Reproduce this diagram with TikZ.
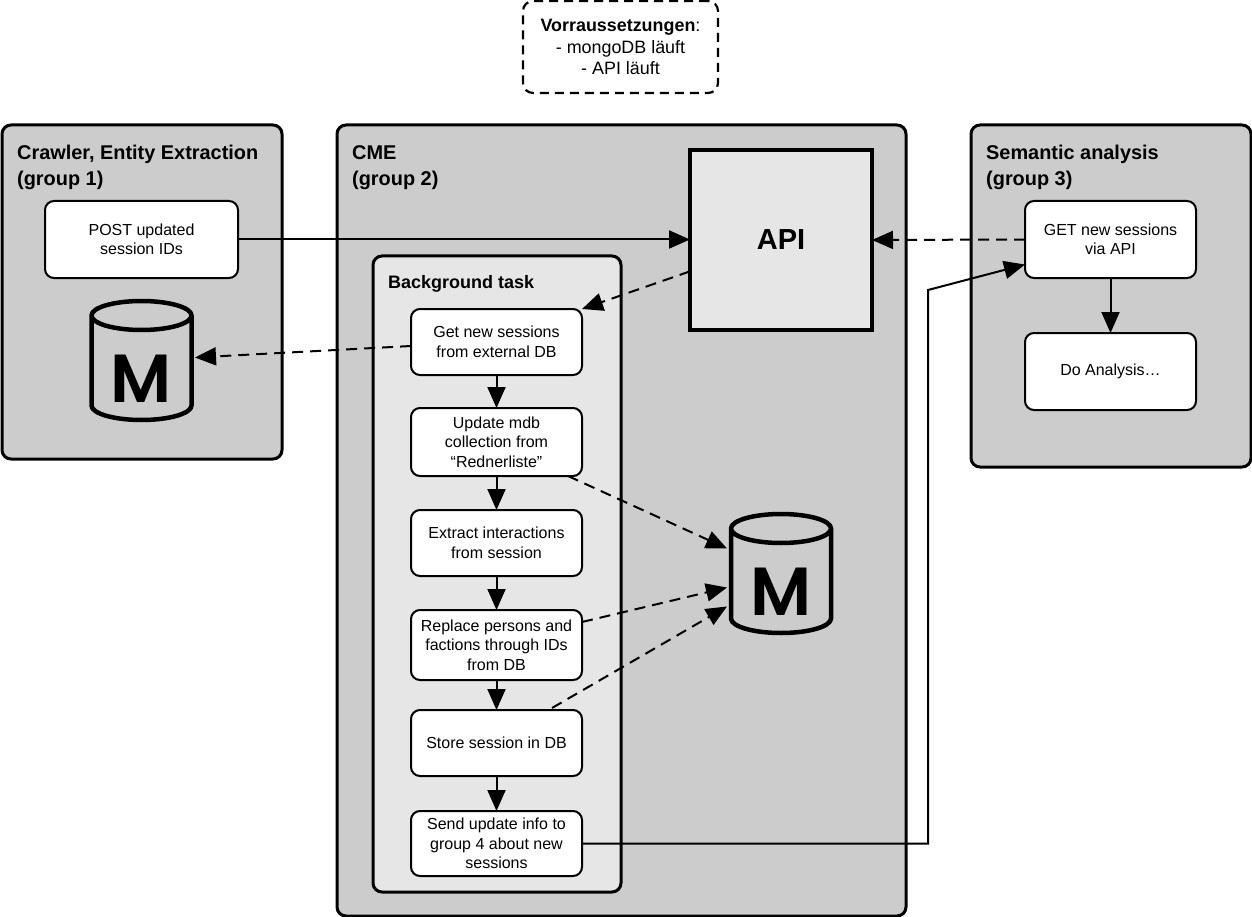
\documentclass[tikz,border=0pt]{standalone}
\usepackage{fontspec}
\setmainfont{Liberation Sans}
\newfontfamily\mongofont{Poppins}[UprightFont=* SemiBold]
\usetikzlibrary{arrows.meta, positioning, calc}
\definecolor{groupgray}{HTML}{CCCCCC}
\definecolor{lightgray}{HTML}{E6E6E6}
\tikzstyle{group} = [draw=black, line width=3pt, rounded corners=9pt, fill=groupgray, inner sep=0pt, outer sep=0pt]
\tikzstyle{title} = [anchor=north west, align=left, inner sep=0pt, font=\fontsize{19.9}{26}\selectfont\bfseries]
\tikzstyle{task} = [draw=black, line width=2pt, rounded corners=9pt, fill=white, minimum width=171pt, align=center, inner sep=0pt, outer sep=0pt, font=\fontsize{16}{19.5}\selectfont]
\tikzstyle{db} = [minimum width=100pt, minimum height=119pt, inner sep=0pt, outer sep=0pt]
\tikzstyle{line} = [line width=2pt, -{Triangle[length=21pt,width=18pt]}]
\tikzstyle{dashline} = [line, dash pattern=on 11pt off 7pt]
\begin{document}
\begin{tikzpicture}[x=1pt,y=-1pt]
    \useasboundingbox (0,0) rectangle (1252,917);
    % prerequisites
    \node[draw=black, line width=2.2pt, dash pattern=on 9pt off 6pt, rounded corners=10pt, minimum width=195pt, minimum height=92pt, align=center, inner sep=0pt, font=\fontsize{17.9}{21.5}\selectfont] (note) at (620.5,47) {\textbf{Vorraussetzungen}:\\- mongoDB läuft\\- API läuft};
    % groups
    \node[group, minimum width=280pt, minimum height=334pt] (crawler) at (142,292) {};
    \node[group, minimum width=569pt, minimum height=791pt] (cme) at (621.5,520.5) {};
    \node[group, minimum width=280pt, minimum height=342pt] (semantic) at (1111,296) {};
    \node[title] (crawlertitle) at (17,145) {Crawler, Entity Extraction\\(group 1)};
    \node[title] (cmetitle) at (352,145) {CME\\(group 2)};
    \node[title] (semantictitle) at (986,145) {Semantic analysis\\(group 3)};
    % api
    \node[draw=black, line width=4pt, fill=lightgray, minimum width=182pt, minimum height=180pt, inner sep=0pt, outer sep=0pt, font=\fontsize{29}{36}\selectfont\bfseries] (api) at (781,240) {API};
    % background task
    \node[group, fill=lightgray, minimum width=248pt, minimum height=636pt] (background) at (497,574) {};
    \node[title, font=\fontsize{18}{20}\selectfont\bfseries] (backgroundtitle) at (388,275) {Background task};
    % tasks
    \node[task, minimum width=193pt, minimum height=77pt] (post) at (141.5,239.5) {POST updated\\session IDs};
    \node[task, minimum height=77pt] (getapi) at (1110.5,239.5) {GET new sessions\\via API};
    \node[task, minimum height=77pt] (analysis) at (1110.5,371.5) {Do Analysis…};
    \node[task, minimum height=66pt] (b1) at (496.5,342) {Get new sessions\\from external DB};
    \node[task, minimum height=68pt] (b2) at (496.5,442) {Update mdb\\collection from\\“Rednerliste”};
    \node[task, minimum height=66pt] (b3) at (496.5,543) {Extract interactions\\from session};
    \node[task, minimum height=70pt] (b4) at (496.5,645) {Replace persons and\\factions through IDs\\from DB};
    \node[task, minimum height=66pt] (b5) at (496.5,743) {Store session in DB};
    \node[task, minimum height=65pt] (b6) at (496.5,843.5) {Send update info to\\group 4 about new\\sessions};
    % databases
    \node[db] (dbleft) at (141.5,360.5) {};
    \node[db] (dbright) at (781,573.5) {};
    \foreach \d in {dbleft,dbright} {
        \draw[line width=4.5pt, line join=round] ($(\d.north west)+(0,14.5)$) -- ($(\d.south west)+(0,-14.5)$)
            arc[start angle=180, end angle=360, x radius=50pt, y radius=14.5pt]
            -- ($(\d.north east)+(0,14.5)$)
            arc[start angle=0, end angle=360, x radius=50pt, y radius=14.5pt];
        \node[inner sep=0pt, font=\fontsize{68}{68}\selectfont\mongofont] at ($(\d.center)+(0,18.5)$) {M};
    }
    % connectors
    \draw[line] (post.east) -- (post.east -| api.west);
    \draw[dashline] (getapi.west) -- (api.east);
    \draw[dashline] (api.199) -- (b1.north east);
    \draw[dashline] ($(b1.west)+(0,4)$) -- ($(dbleft.east)+(3.5,-3)$);
    \draw[line] (b1.south) -- (b2.north);
    \draw[line] (b2.south) -- (b3.north);
    \draw[line] (b3.south) -- (b4.north);
    \draw[line] (b4.south) -- (b5.north);
    \draw[line] (b5.south) -- (b6.north);
    \draw[line] (getapi.south) -- (analysis.north);
    \draw[dashline] ($(b2.south east)+(-14,0)$) -- ($(dbright.west)+(-4,-25)$);
    \draw[dashline] ($(b4.north east)+(0,12)$) -- ($(dbright.west)+(-4,14)$);
    \draw[dashline] ($(b5.north east)+(-30,-2)$) -- ($(dbright.west)+(-4,33)$);
    \coordinate (bend) at (928,290);
    \draw[line] (b6.east) -- (bend |- b6.east) -- (bend) -- ($(getapi.west)+(0,25)$);
\end{tikzpicture}
\end{document}
